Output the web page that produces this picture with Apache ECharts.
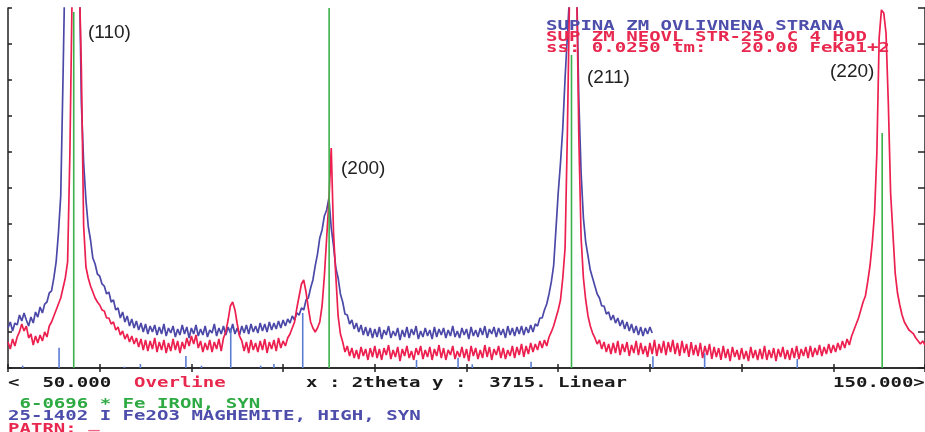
<!DOCTYPE html>
<html><head><meta charset="utf-8">
<script src="https://cdn.jsdelivr.net/npm/echarts@6/dist/echarts.min.js"></script>
<style>html,body{margin:0;padding:0;background:#fff;overflow:hidden}#c{width:925px;height:432px}</style>
</head><body><div id="c"></div>
<script>
// 2theta sampling grid (degrees)
const X_START = 50, X_STEP = 0.25;
// SUPINA ZM OVLIVNENA STRANA (blue), counts, 50.00 .. 120.25 deg
const blueCounts = [
413,475,382,464,444,547,485,568,495,433,
526,464,578,526,630,568,660,681,774,795,
929,1094,1393,1775,2993,4334,5366,5779,5986,6037,
5882,4334,2735,2116,1734,1465,1321,1135,1073,970,
949,867,846,764,784,681,702,599,619,516,
578,475,537,433,506,413,485,392,464,372,
454,351,433,372,444,341,423,351,454,330,
413,361,433,320,402,341,444,351,423,310,
413,351,444,330,402,341,433,320,392,361,
454,330,413,351,433,341,423,361,454,351,
413,341,433,361,444,351,454,372,433,361,
464,382,454,372,475,392,464,402,485,413,
495,433,506,464,537,495,568,547,619,599,
702,722,826,908,1053,1176,1342,1424,1569,1631,
1754,1445,1259,1032,929,764,681,557,547,454,
495,402,464,372,444,341,423,330,413,310,
402,320,423,299,392,341,433,310,382,330,
413,289,392,320,423,310,402,341,433,299,
382,320,413,330,392,299,423,320,402,341,
413,310,392,330,433,320,382,310,413,341,
402,299,423,330,392,320,413,341,433,310,
402,351,423,320,413,341,402,310,433,341,
413,330,423,351,433,341,423,361,444,372,
454,433,516,516,599,660,764,888,1053,1424,
1806,2116,2477,2993,3426,3870,4334,4438,4025,2766,
2012,1548,1300,1156,1011,929,846,764,722,640,
640,557,578,495,547,464,516,433,495,402,
475,382,454,361,433,341,423,330,413,351,
423,361
];
// SUP ZM NEOVL STR-250 C 4 HOD (red), counts, 50.00 .. 150.00 deg
const redCounts = [
268,196,299,227,320,372,454,382,433,310,
351,237,330,258,341,279,372,320,433,475,
537,599,660,722,826,929,1094,2219,3922,4334,
4438,4128,3096,1465,1042,929,846,784,722,681,
650,599,588,516,516,454,475,392,423,341,
382,299,351,268,330,248,310,217,299,186,
289,175,279,196,310,165,268,186,289,155,
258,175,299,186,279,155,268,196,310,227,
330,248,341,206,279,165,258,186,289,165,
268,196,299,175,310,372,495,640,681,599,
454,330,279,175,268,155,289,186,258,165,
279,186,299,155,268,196,289,175,310,206,
279,227,310,351,413,475,619,743,867,908,
784,619,475,413,372,413,475,640,949,1342,
1734,2270,1393,949,537,351,268,165,227,124,
206,103,186,93,217,124,196,83,206,114,
227,103,196,83,206,134,237,93,186,114,
217,72,196,124,227,103,175,83,206,134,
227,93,186,114,217,83,196,124,237,103,
206,83,186,134,227,93,175,114,217,103,
196,72,227,124,206,93,186,103,237,114,
217,83,196,134,227,103,206,93,186,124,
227,103,217,134,248,114,227,144,258,165,
248,186,279,206,289,227,320,372,433,516,
599,702,929,1238,2425,3922,4334,4438,4025,2374,
1342,929,702,537,433,361,310,248,289,196,
268,165,248,144,258,155,279,134,248,165,
268,124,237,155,279,134,258,144,227,114,
258,144,289,124,248,155,279,134,268,165,
289,144,258,124,279,155,248,114,268,134,
237,124,258,103,227,134,248,93,217,114,
206,83,227,103,196,72,217,114,186,83,
206,93,175,72,217,103,186,83,196,93,
227,83,186,103,206,72,196,114,217,93,
186,83,206,103,227,93,196,124,217,103,
227,114,206,134,237,124,217,144,248,155,
237,165,258,186,279,206,299,237,330,392,
454,516,599,681,743,888,1053,1290,1600,2219,
3406,3695,3664,3457,2735,1806,1393,980,774,650,
547,475,433,392,372,351,310,279,248,279,
237
];
// 6-0696 Fe IRON reference lines
const feX = [57.17, 85.02, 111.45, 145.33];
const feH = [3674, 3715, 3230, 2425];
// 25-1402 Fe2O3 MAGHEMITE reference lines
const magX = [51.6, 55.57, 62.7, 64.44, 69.4, 71.1, 74.29, 77.55, 79.0, 82.14, 94.55, 99.08, 100.63, 107.04, 120.33, 125.97, 136.07];
const magH = [24, 210, 13, 41, 124, 24, 413, 24, 41, 568, 83, 106, 38, 65, 120, 152, 93];
const peakLabels = ['(110)', '(200)', '(211)', '(220)'];
const headerLines = ['SUPINA ZM OVLIVNENA STRANA', 'SUP ZM NEOVL STR-250 C 4 HOD', 'ss: 0.0250 tm:   20.00 FeKa1+2'];
const footerLines = [' 6-0696 * Fe IRON, SYN', '25-1402 I Fe2O3 MAGHEMITE, HIGH, SYN', 'PATRN:'];
const statusParts = ['<  50.000', 'Overline', 'x : 2theta y :', '3715. Linear', '150.000>'];

const Y_MAX = 3715;
const BLUE = '#4b48a8', RED = '#ec1f4f', GREEN = '#3cb04c', STICK_BLUE = '#5b7dd3';
const toXY = arr => arr.map((v, i) => [X_START + i * X_STEP, v]);
const blueData = toXY(blueCounts);
const redData = toXY(redCounts);
const feData = feX.map((x, i) => [x, feH[i]]);
const magData = magX.map((x, i) => [x, magH[i]]);

function stickSeries(data, color) {
  return {
    type: 'custom', clip: true, silent: true, z: 5,
    data: data,
    renderItem: function (params, api) {
      const x = api.value(0), h = api.value(1);
      const p0 = api.coord([x, 0]), p1 = api.coord([x, h]);
      return { type: 'line', shape: { x1: p0[0], y1: p0[1], x2: p1[0], y2: p1[1] },
        style: { stroke: color, lineWidth: 1.6 } };
    }
  };
}

const CH = 11.46, FS = 14, SX = 11.46 / (0.602 * 14);
function mono(str, x, y, color) {
  return { type: 'text', x: x, y: y, scaleX: SX, z: 100,
    style: { text: str, font: 'bold ' + FS + 'px "DejaVu Sans Mono"', fill: color,
      textAlign: 'left', textVerticalAlign: 'middle' } };
}
function label(str, x, y) {
  return { type: 'text', x: x, y: y, z: 100,
    style: { text: str, font: '19px "Liberation Sans"', fill: '#222',
      textAlign: 'left', textVerticalAlign: 'middle' } };
}
const col = c => 8 + c * CH;
const graphics = [
  mono(headerLines[0], 546, 26, '#4d4dab'),
  mono(headerLines[1], 546, 37, '#e8284f'),
  mono(headerLines[2], 546, 48, '#e8284f'),
  mono(statusParts[0], col(0), 383, '#1a1a1a'),
  mono(statusParts[1], col(11), 383, '#e8284f'),
  mono(statusParts[2], col(26), 383, '#1a1a1a'),
  mono(statusParts[3], col(42), 383, '#1a1a1a'),
  mono(statusParts[4], col(72), 383, '#1a1a1a'),
  mono(footerLines[0], col(0), 404, '#2eaa43'),
  mono(footerLines[1], col(0), 416, '#4d4dab'),
  mono(footerLines[2], col(0), 429, '#e8284f'),
  mono('_', col(7), 424, '#f06080'),
  label(peakLabels[0], 88, 33),
  label(peakLabels[1], 341, 169),
  label(peakLabels[2], 587, 78),
  label(peakLabels[3], 830, 72)
];

const axisLine = { show: true, lineStyle: { color: '#222', width: 1.5 } };
const chart = echarts.init(document.getElementById('c'), null, { renderer: 'canvas' });
chart.setOption({
  animation: false,
  backgroundColor: '#fff',
  grid: { left: 8, right: -4, top: 8, bottom: 64, containLabel: false },
  xAxis: [
    { type: 'value', min: 50, max: 150, interval: 10, position: 'bottom',
      axisLine: axisLine, axisTick: { show: true, inside: true, length: 4, lineStyle: { color: '#222', width: 1.5 } },
      axisLabel: { show: false }, splitLine: { show: false } },
    { type: 'value', min: 50, max: 150, interval: 10, position: 'top',
      axisLine: axisLine, axisTick: { show: true, inside: true, length: 4, lineStyle: { color: '#222', width: 1.5 } },
      axisLabel: { show: false }, splitLine: { show: false } }
  ],
  yAxis: [
    { type: 'value', min: 0, max: Y_MAX, interval: Y_MAX / 10, position: 'left',
      axisLine: axisLine, axisTick: { show: true, inside: true, length: 4, lineStyle: { color: '#222', width: 1.5 } },
      axisLabel: { show: false }, splitLine: { show: false } },
    { type: 'value', min: 0, max: Y_MAX, interval: Y_MAX / 10, position: 'right',
      axisLine: axisLine, axisTick: { show: true, inside: true, length: 7, lineStyle: { color: '#222', width: 1.5 } },
      axisLabel: { show: false }, splitLine: { show: false } }
  ],
  series: [
    { type: 'line', data: blueData, showSymbol: false, symbol: 'none', clip: true, z: 2,
      lineStyle: { color: BLUE, width: 1.7 }, silent: true },
    { type: 'line', data: redData, showSymbol: false, symbol: 'none', clip: true, z: 3,
      lineStyle: { color: RED, width: 1.7 }, silent: true },
    stickSeries(magData, STICK_BLUE),
    stickSeries(feData, GREEN)
  ],
  graphic: graphics
});
</script>
</body></html>
